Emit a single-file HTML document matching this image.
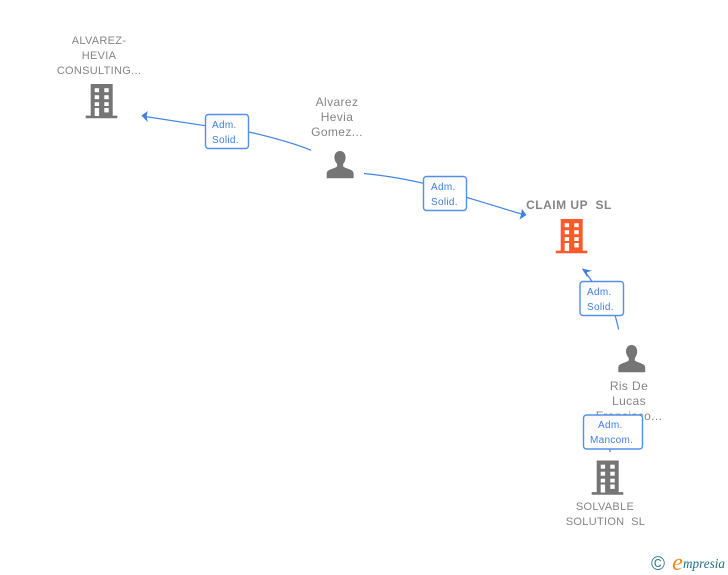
<!DOCTYPE html>
<html><head><meta charset="utf-8"><style>
html,body{margin:0;padding:0;background:#fff}
svg{display:block}
text{font-family:"Liberation Sans",sans-serif;fill:#858585;text-anchor:middle}
.c{font-size:11px;letter-spacing:.3px}
.p{font-size:12px;letter-spacing:.38px}
.b{font-size:10px;fill:#3f7fe0;letter-spacing:.3px}
.box{fill:url(#g);stroke:#5590e8;stroke-width:1.4}
.l{fill:none;stroke:#4285e0;stroke-width:1.2}
.a{fill:#3f7fe0}
</style></head><body>
<svg width="728" height="575" viewBox="0 0 728 575" xmlns="http://www.w3.org/2000/svg">
<defs>
<linearGradient id="g" x1="0" y1="0" x2="1" y2="1"><stop offset="0" stop-color="#f7f7f7"/><stop offset=".5" stop-color="#fff"/></linearGradient>
<g id="bld">
<path d="M5 0H27V32H5ZM0 31.600H31.600V34.200H0Z"/>
<g fill="#fff">
<rect x="9" y="4.200" width="4.400" height="4"/><rect x="18.600" y="4.200" width="4.400" height="4"/>
<rect x="9" y="11.200" width="4.400" height="4"/><rect x="18.600" y="11.200" width="4.400" height="4"/>
<rect x="9" y="18.200" width="4.400" height="3.800"/><rect x="18.600" y="18.200" width="4.400" height="3.800"/>
<rect x="9" y="24" width="4.400" height="8"/><rect x="18.600" y="24" width="4.400" height="4.400"/>
</g>
</g>
<path id="per" d="M13.300 0c3.400 0 5.600 2.700 5.600 6.400 0 2.600-1 5-2.400 6.500v2.300c0 1 4.400 2.200 7.300 3.500 2 .9 3.100 2 3.100 4v4.600H0v-4.600c0-2 1.100-3.100 3.100-4 2.900-1.300 7.300-2.500 7.300-3.500v-2.300C9 11.400 7.700 9 7.700 6.400 7.700 2.700 9.900 0 13.300 0Z"/>
</defs>

<path class="l" d="M311 150.300Q290 141.500 249 132L205 125.700L145 116.500"/>
<path class="a" d="M141.500 115.500L147.800 111L146.500 116.500L147.800 122.200Z"/>
<path class="l" d="M364 173.500Q395 176.500 423.300 183.300L467.700 197.700L523 214.500"/>
<path class="a" d="M526.500 215L519.500 219.500L521.300 214L521.800 208.800Z"/>
<path class="l" d="M618.700 329.500L615.300 316L591.700 281L585 271.500"/>
<path class="a" d="M581.800 268.500L592 270.700L586.800 272.300L587.300 277.500Z"/>
<path class="l" d="M610 449V452"/>

<g fill="#757575"><use href="#bld" x="85.700" y="84"/></g>
<g fill="#ff5a2b"><use href="#bld" x="555.700" y="219"/></g>
<g fill="#757575"><use href="#bld" x="591.700" y="460.500"/></g>
<g fill="#757575"><use href="#per" x="326.700" y="151"/></g>
<g fill="#757575"><use href="#per" x="618.300" y="345"/></g>

<text class="c" x="99" y="44">ALVAREZ-</text>
<text class="c" x="99" y="59">HEVIA</text>
<text class="c" x="99" y="74">CONSULTING...</text>
<text class="p" x="337" y="106">Alvarez</text>
<text class="p" x="337" y="121">Hevia</text>
<text class="p" x="337" y="136">Gomez...</text>
<text class="c" x="569" y="209" style="font-weight:bold;font-size:12px;letter-spacing:.5px" xml:space="preserve">CLAIM UP  SL</text>
<text class="p" x="629" y="390">Ris De</text>
<text class="p" x="629" y="405">Lucas</text>
<text class="p" x="629" y="420">Francisco...</text>
<text class="c" x="605" y="510">SOLVABLE</text>
<text class="c" x="605.500" y="525" xml:space="preserve">SOLUTION  SL</text>

<rect class="box" x="205.500" y="114.500" width="43" height="34" rx="3"/>
<text class="b" x="212" y="128" style="text-anchor:start">Adm.</text>
<text class="b" x="212" y="143" style="text-anchor:start">Solid.</text>
<rect class="box" x="423.500" y="176.500" width="43" height="34" rx="3"/>
<text class="b" x="431" y="190" style="text-anchor:start">Adm.</text>
<text class="b" x="431" y="205" style="text-anchor:start">Solid.</text>
<rect class="box" x="580" y="281.500" width="43.500" height="34" rx="3"/>
<text class="b" x="587" y="295" style="text-anchor:start">Adm.</text>
<text class="b" x="587" y="310" style="text-anchor:start">Solid.</text>
<rect class="box" x="583.500" y="415" width="59" height="34" rx="3"/>
<text class="b" x="598" y="428" style="text-anchor:start">Adm.</text>
<text class="b" x="590" y="443" style="text-anchor:start">Mancom.</text>

<text x="658" y="570" style="font-size:19px;fill:#2f7a8f">©</text>
<text x="677.500" y="570" style="font-family:'Liberation Serif',serif;font-style:italic;font-size:24px;fill:#f08a1c">e</text>
<text x="683" y="568" textLength="42" lengthAdjust="spacingAndGlyphs" style="font-family:'Liberation Serif',serif;font-style:italic;font-size:14px;fill:#1f6f86;text-anchor:start">mpresia</text>
</svg>
</body></html>
